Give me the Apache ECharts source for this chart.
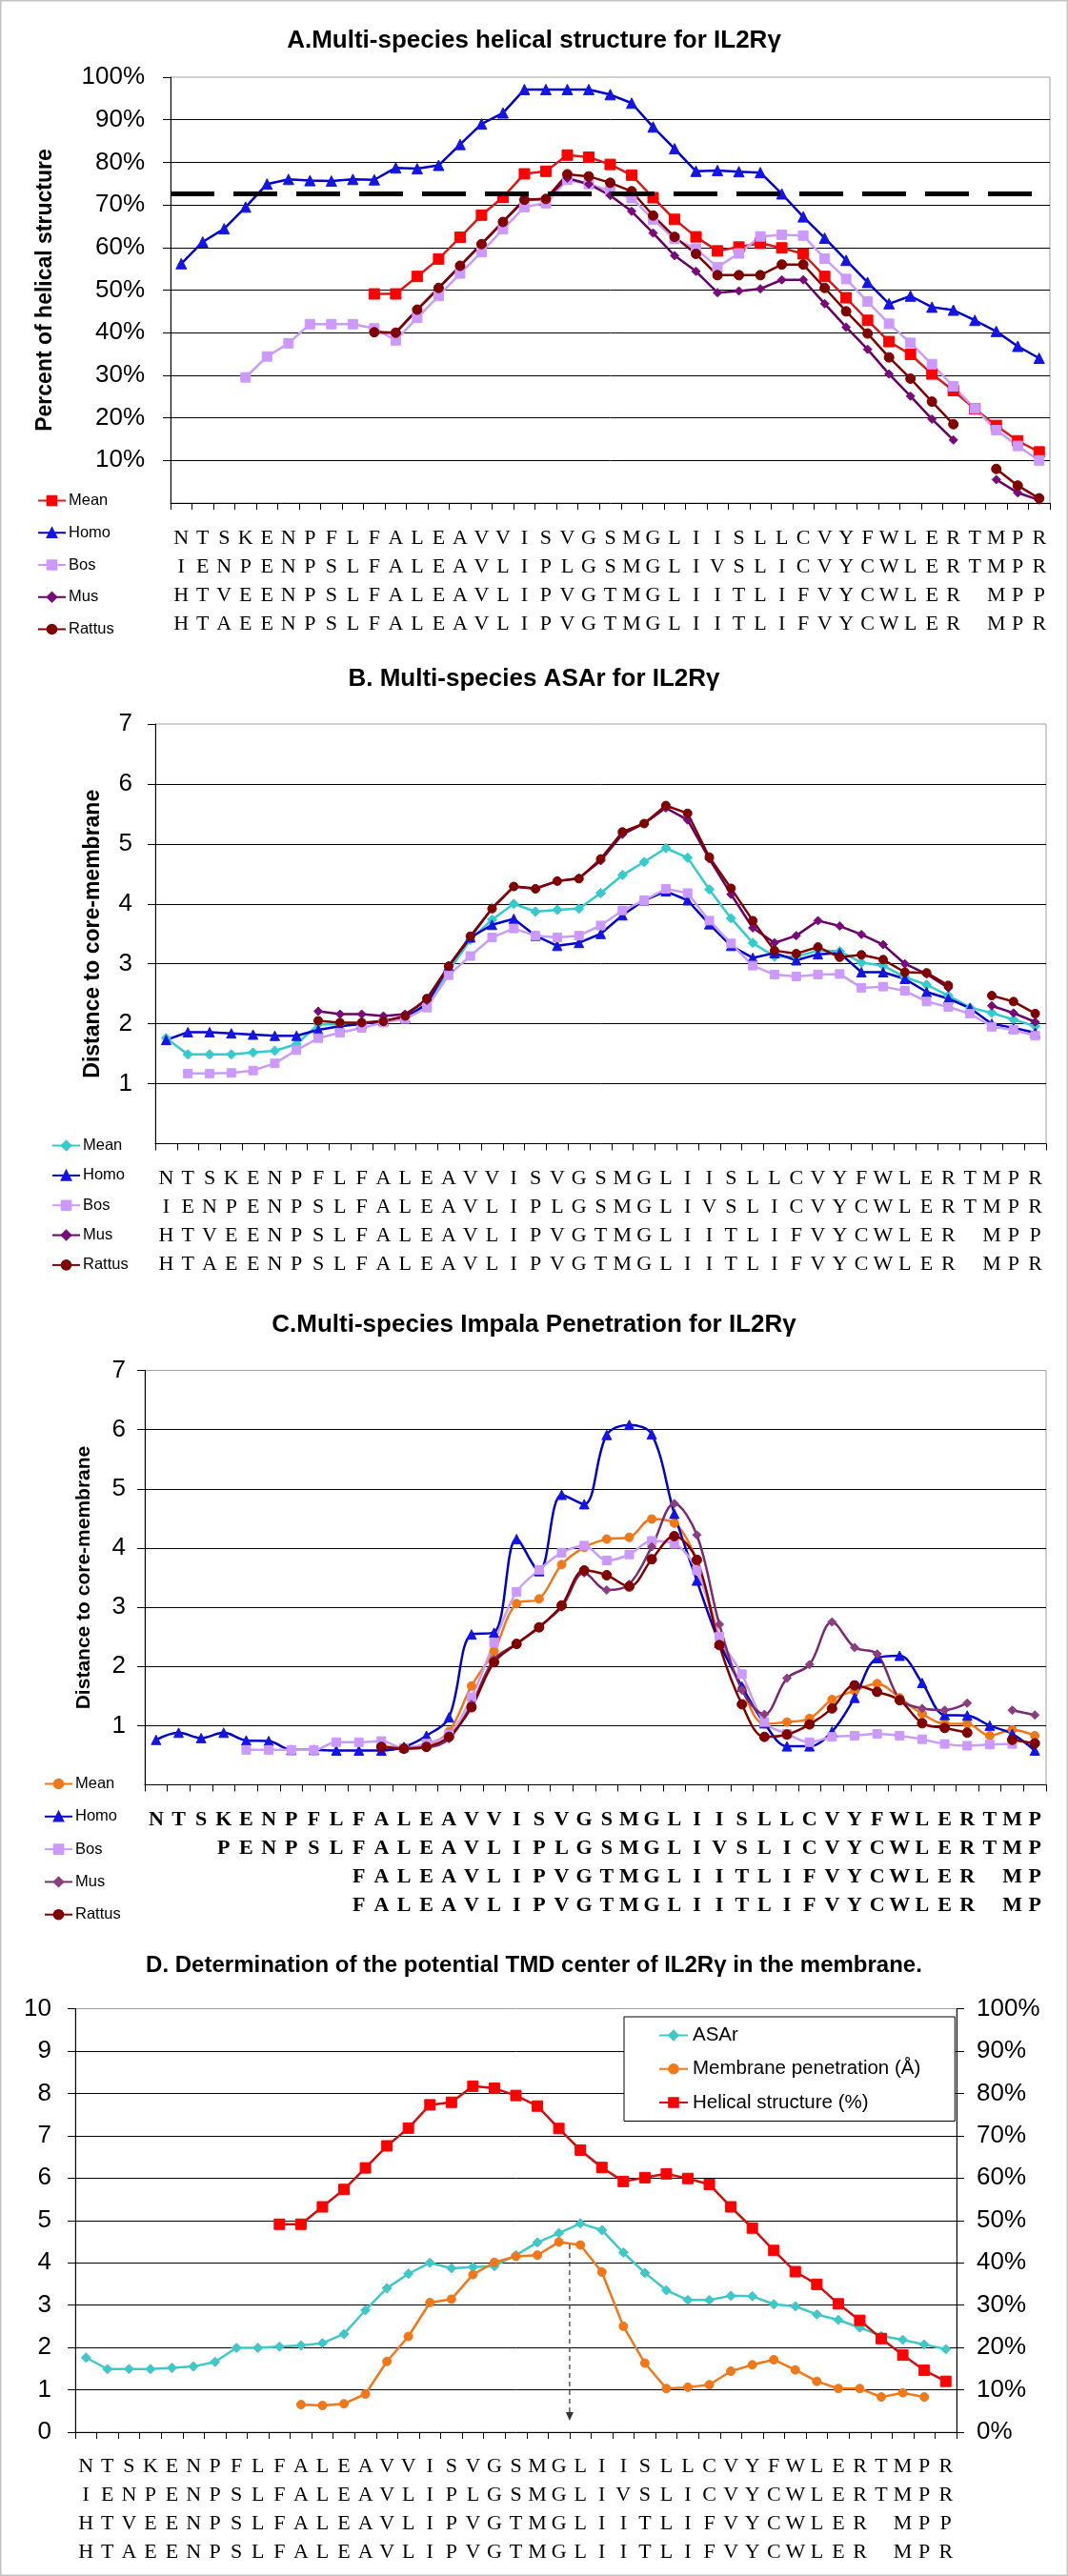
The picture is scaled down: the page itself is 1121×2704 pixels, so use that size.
<!DOCTYPE html>
<html><head><meta charset="utf-8">
<script src="https://cdn.jsdelivr.net/npm/echarts@6/dist/echarts.min.js"></script>
<style>html,body{margin:0;padding:0;background:#fff}#c{width:1121px;height:2704px}</style>
</head><body><div id="c"></div>
<script>
// ---------- sequences (x-axis tick label rows) ----------
const seqHomo   = 'NTSKENPFLFALEAVVISVGSMGLIISLLCVYFWLERTMPR';
const seqBos    = 'IENPENPSLFALEAVLIPLGSMGLIVSLICVYCWLERTMPR';
const seqMus    = 'HTVEENPSLFALEAVLIPVGTMGLIITLIFVYCWLER MPP';
const seqRattus = 'HTAEENPSLFALEAVLIPVGTMGLIITLIFVYCWLER MPR';
// panel C uses 40 positions, rows offset as in the figure
const penHomo   = 'NTSKENPFLFALEAVVISVGSMGLIISLLCVYFWLERTMP';
const penBos    = '   PENPSLFALEAVLIPLGSMGLIVSLICVYCWLERTMP';
const penMus    = '         FALEAVLIPVGTMGLIITLIFVYCWLER MP';
const penRattus = '         FALEAVLIPVGTMGLIITLIFVYCWLER MP';

const speciesNames = ['Mean','Homo','Bos','Mus','Rattus'];

// ---------- A. helical structure (%) ----------
const meanHelix   = [null,null,null,null,null,null,null,null,null,49.1,49.1,53.2,57.3,62.4,67.6,71.8,77.3,77.9,81.7,81.2,79.5,77.0,71.7,66.6,62.5,59.2,60.1,61.0,59.9,58.5,53.2,48.2,42.9,37.9,34.9,30.3,26.4,22.1,18.2,14.6,12.0];
const homoHelix   = [56.2,61.3,64.4,69.5,74.9,76.0,75.7,75.6,76.0,75.9,78.7,78.5,79.3,84.2,89.0,91.6,97.1,97.1,97.1,97.1,95.9,93.9,88.3,83.2,77.9,78.1,77.8,77.6,72.6,67.2,62.2,57.0,51.8,46.8,48.6,46.0,45.3,42.9,40.3,36.8,34.0];
const bosHelix    = [null,null,null,29.5,34.4,37.5,42.0,42.0,42.0,41.0,38.2,43.5,48.6,53.9,58.9,64.3,69.5,70.4,75.9,74.9,73.3,71.6,66.6,62.0,59.7,55.4,58.6,62.6,63.0,62.8,57.4,52.6,47.3,42.1,37.6,32.6,27.4,22.2,17.1,13.4,10.0];
const musHelix    = [null,null,null,null,null,null,null,null,null,40.1,40.0,45.4,50.5,55.7,60.8,66.0,71.2,71.4,76.3,74.9,72.2,68.5,63.4,58.1,54.4,49.4,49.8,50.3,52.4,52.4,46.8,41.3,36.1,30.3,25.1,19.7,14.8,null,5.5,2.4,0.7];
const rattusHelix = [null,null,null,null,null,null,null,null,null,40.1,40.0,45.4,50.5,55.7,60.8,66.0,71.2,71.4,77.2,76.7,75.2,73.2,67.5,62.5,58.5,53.5,53.5,53.5,56.0,56.0,50.5,45.0,39.8,34.2,29.2,23.8,18.5,null,8.0,4.1,1.1];
const helixThreshold = 72.7;

// ---------- B. ASAr ----------
const meanASAr   = [1.76,1.49,1.49,1.49,1.52,1.55,1.66,1.99,1.99,2.02,2.05,2.10,2.32,2.88,3.40,3.74,4.00,3.87,3.90,3.92,4.18,4.48,4.70,4.93,4.77,4.24,3.76,3.35,3.12,3.12,3.22,3.21,3.02,2.97,2.78,2.65,2.47,2.27,2.18,2.07,1.96];
const homoASAr   = [1.73,1.86,1.86,1.84,1.82,1.80,1.80,1.90,1.96,2.00,2.05,2.10,2.33,2.96,3.44,3.65,3.75,3.47,3.30,3.35,3.50,3.81,4.06,4.21,4.06,3.66,3.30,3.10,3.18,3.06,3.16,3.18,2.86,2.86,2.75,2.53,2.42,2.26,2.00,1.93,1.85];
const bosASAr    = [null,1.17,1.17,1.18,1.22,1.34,1.56,1.76,1.85,1.93,2.02,2.08,2.27,2.81,3.13,3.44,3.59,3.47,3.44,3.47,3.64,3.89,4.06,4.25,4.18,3.72,3.34,2.97,2.82,2.79,2.82,2.83,2.60,2.62,2.55,2.37,2.28,2.17,1.95,1.90,1.80];
const musASAr    = [null,null,null,null,null,null,null,2.21,2.16,2.16,2.13,2.16,2.39,2.96,3.44,3.93,4.29,4.26,4.38,4.43,4.72,5.16,5.34,5.60,5.40,4.75,4.16,3.60,3.35,3.47,3.72,3.63,3.49,3.32,3.00,2.83,2.60,null,2.30,2.18,2.03];
const rattusASAr = [null,null,null,null,null,null,null,2.05,2.02,2.02,2.04,2.13,2.42,2.96,3.46,3.92,4.29,4.25,4.38,4.42,4.75,5.20,5.34,5.64,5.51,4.78,4.26,3.72,3.22,3.17,3.28,3.11,3.15,3.07,2.86,2.85,2.64,null,2.47,2.37,2.17];

// ---------- C. Impala penetration ----------
const meanPen   = [null,null,null,null,null,null,null,null,null,null,0.65,0.63,0.67,0.90,1.67,2.26,3.06,3.14,3.72,4.01,4.15,4.18,4.49,4.42,3.78,2.50,1.63,1.03,1.06,1.12,1.44,1.59,1.71,1.47,1.20,1.03,1.03,0.83,0.93,0.83];
const homoPen   = [0.76,0.88,0.79,0.88,0.75,0.74,0.59,0.59,0.58,0.58,0.58,0.64,0.83,1.14,2.54,2.57,4.15,3.61,4.90,4.74,5.91,6.08,5.92,4.58,3.45,2.40,1.66,1.04,0.65,0.65,0.90,1.47,2.14,2.18,1.72,1.18,1.17,1.00,0.86,0.58];
const bosPen    = [null,null,null,null,0.59,0.59,0.59,0.59,0.72,0.72,0.74,0.62,0.70,0.85,1.48,2.40,3.26,3.63,3.92,4.04,3.79,3.89,4.12,4.07,3.62,2.50,1.87,1.06,0.86,0.72,0.81,0.83,0.86,0.83,0.77,0.69,0.66,0.68,0.69,null];
const musPen    = [null,null,null,null,null,null,null,null,null,null,0.64,0.62,0.63,0.78,1.36,2.12,2.38,2.67,3.00,3.58,3.29,3.39,4.02,4.75,4.22,2.71,1.60,1.19,1.80,2.03,2.75,2.32,2.21,1.45,1.29,1.26,1.38,null,1.26,1.18];
const rattusPen = [null,null,null,null,null,null,null,null,null,null,0.64,0.61,0.64,0.81,1.31,2.07,2.38,2.66,3.03,3.62,3.54,3.35,3.81,4.20,3.80,2.36,1.36,0.81,0.85,1.02,1.29,1.68,1.57,1.43,1.04,0.96,0.88,null,0.76,0.70];

// ---------- D. annotation values ----------
const centerArrowTop = 4.43, centerArrowBottom = 0.27;
const centerLeftIdx = 22, centerRightIdx = 23;

// ---------- helpers ----------
const SANS = '"Liberation Sans", Arial, sans-serif';
const SERIF = '"Liberation Serif", "Times New Roman", serif';

function stackLabels(rows) {
  const out = [];
  for (let i = 0; i < rows[0].length; i++) out.push(rows.map(r => r[i] === ' ' ? ' ' : r[i]).join('\n'));
  return out;
}
const catsMain = stackLabels([seqHomo, seqBos, seqMus, seqRattus]);
const catsPen  = stackLabels([penHomo, penBos, penMus, penRattus]);

function xAx(gi, cats, bold, margin) {
  return {
    type: 'category', gridIndex: gi, data: cats, boundaryGap: true,
    axisLine: {show: true, onZero: false, lineStyle: {color: '#000', width: 1}},
    axisTick: {show: true, length: 7, interval: 0, alignWithLabel: false, lineStyle: {color: '#000'}},
    axisLabel: {show: true, interval: 0, margin: margin, fontFamily: SERIF, fontSize: 22, lineHeight: 30,
                color: '#000', fontWeight: bold ? 'bold' : 'normal', hideOverlap: false},
    splitLine: {show: false}
  };
}
function yAx(gi, max, interval, fmt, margin, showMin, extra) {
  return Object.assign({
    type: 'value', gridIndex: gi, min: 0, max: max, interval: interval,
    axisLine: {show: true, lineStyle: {color: '#000', width: 1}},
    axisTick: {show: true, length: 8, inside: false, lineStyle: {color: '#000'}},
    axisLabel: {show: true, margin: margin, fontFamily: SANS, fontSize: 26, color: '#000',
                showMinLabel: showMin, formatter: fmt},
    splitLine: {show: true, showMinLine: false, showMaxLine: false, lineStyle: {color: '#000', width: 1}},
    nameMoveOverlap: false
  }, extra || {});
}
function ser(name, data, gi, yi, lineColor, itemColor, symbol, size, smooth, extra) {
  return Object.assign({
    type: 'line', name: name, xAxisIndex: gi, yAxisIndex: yi, data: data,
    symbol: symbol, symbolSize: size, showSymbol: true, showAllSymbol: true,
    connectNulls: false, smooth: smooth, animation: false,
    lineStyle: {color: lineColor, width: 2.5},
    itemStyle: {color: itemColor, borderColor: itemColor, borderWidth: 1},
    emphasis: {disabled: true}
  }, extra || {});
}
const fmtName = n => n.split('|').pop();
function legend(prefix, left, top, gap) {
  return {
    orient: 'vertical', left: left, top: top, itemWidth: 29, itemHeight: 12, itemGap: gap, padding: 0,
    data: speciesNames.map(s => prefix + '|' + s), formatter: fmtName,
    textStyle: {fontFamily: SANS, fontSize: 16.5, lineHeight: 16, color: '#000', padding: [0, 0, 0, -2]},
    selectedMode: false
  };
}
function title(text, top, size) {
  return {text: text, left: 'center', top: top, padding: 0,
          textStyle: {fontFamily: SANS, fontSize: size, fontWeight: 'bold', color: '#000'}};
}
const pct = v => v + '%';
const gridBase = {show: true, borderColor: '#a0a0a0', borderWidth: 1, backgroundColor: 'transparent', containLabel: false, outerBoundsMode: 'none'};

const chart = echarts.init(document.getElementById('c'), null, {renderer: 'canvas', width: 1121, height: 2704});

const option = {
  animation: false,
  backgroundColor: '#fff',
  textStyle: {fontFamily: SANS},
  title: [
    title('A.Multi-species helical structure for IL2R\u03b3', 30, 26),
    title('B. Multi-species ASAr for IL2R\u03b3', 700, 26),
    title('C.Multi-species Impala Penetration for IL2R\u03b3', 1378, 26),
    title('D. Determination of the potential TMD center of IL2R\u03b3 in the membrane.', 2051, 24)
  ],
  legend: [
    legend('A', 39, 517, 16.75),
    legend('B', 54, 1194, 14.35),
    legend('C', 46, 1864, 17.3),
    {
      orient: 'vertical', left: 655, top: 2117, itemWidth: 30, itemHeight: 12, itemGap: 14.25,
      padding: [9, 36, 9, 36], borderColor: '#000', borderWidth: 1, backgroundColor: '#fff',
      data: ['ASAr', 'Membrane penetration (\u00c5)', 'Helical structure (%)'],
      textStyle: {fontFamily: SANS, fontSize: 20.5, lineHeight: 20, color: '#000'},
      selectedMode: false
    }
  ],
  grid: [
    Object.assign({left: 179, top: 81, width: 923, height: 447}, gridBase),
    Object.assign({left: 163, top: 760, width: 935, height: 440.5}, gridBase),
    Object.assign({left: 152, top: 1438.5, width: 946, height: 435}, gridBase),
    Object.assign({left: 79, top: 2108.5, width: 925, height: 444.5}, gridBase)
  ],
  xAxis: [
    xAx(0, catsMain, false, 22),
    xAx(1, catsMain, false, 22),
    xAx(2, catsPen, true, 22),
    xAx(3, catsMain, false, 21)
  ],
  yAxis: [
    yAx(0, 100, 10, pct, 27, false, {name: 'Percent of helical structure', nameLocation: 'middle', nameRotate: 90, nameGap: 120,
        nameTextStyle: {fontFamily: SANS, fontSize: 23, fontWeight: 'bold', color: '#000'}}),
    yAx(1, 7, 1, v => v, 24, false, {name: 'Distance to core-membrane', nameLocation: 'middle', nameRotate: 90, nameGap: 54,
        nameTextStyle: {fontFamily: SANS, fontSize: 23, fontWeight: 'bold', color: '#000'}}),
    yAx(2, 7, 1, v => v, 20, false, {name: 'Distance to core-membrane', nameLocation: 'middle', nameRotate: 90, nameGap: 53,
        nameTextStyle: {fontFamily: SANS, fontSize: 21, fontWeight: 'bold', color: '#000'}}),
    yAx(3, 10, 1, v => v, 25, true),
    yAx(3, 100, 10, pct, 21, true, {position: 'right', splitLine: {show: false}})
  ],
  series: [
    // A
    ser('A|Mean', meanHelix, 0, 0, '#d41c1c', '#ff0000', 'rect', 11, false),
    ser('A|Homo', homoHelix, 0, 0, '#0000c8', '#1414e6', 'triangle', 11, false, {
      markLine: {silent: true, symbol: 'none', label: {show: false}, animation: false,
                 lineStyle: {color: '#000', width: 5, type: [46, 20]},
                 data: [{yAxis: helixThreshold}]}
    }),
    ser('A|Bos', bosHelix, 0, 0, '#c99cf8', '#cc99ff', 'rect', 10, false),
    ser('A|Mus', musHelix, 0, 0, '#660066', '#7a0a7a', 'diamond', 9, false),
    ser('A|Rattus', rattusHelix, 0, 0, '#800000', '#800000', 'circle', 10, false),
    // B
    ser('B|Mean', meanASAr, 1, 1, '#33cccc', '#33cccc', 'diamond', 10, false),
    ser('B|Homo', homoASAr, 1, 1, '#0000c8', '#1414e6', 'triangle', 10, false),
    ser('B|Bos', bosASAr, 1, 1, '#c99cf8', '#cc99ff', 'rect', 9, false),
    ser('B|Mus', musASAr, 1, 1, '#660066', '#7a0a7a', 'diamond', 9, false),
    ser('B|Rattus', rattusASAr, 1, 1, '#800000', '#800000', 'circle', 9, false),
    // C
    ser('C|Mean', meanPen, 2, 2, '#f07818', '#f07818', 'circle', 9, 0.35),
    ser('C|Homo', homoPen, 2, 2, '#0000c8', '#1414e6', 'triangle', 10, 0.35),
    ser('C|Bos', bosPen, 2, 2, '#c99cf8', '#cc99ff', 'rect', 9, 0.35),
    ser('C|Mus', musPen, 2, 2, '#7a2a72', '#8c3f80', 'diamond', 9, 0.35),
    ser('C|Rattus', rattusPen, 2, 2, '#800000', '#800000', 'circle', 10, 0.35),
    // D
    ser('ASAr', meanASAr, 3, 3, '#40c8c8', '#40c8c8', 'diamond', 10, false),
    ser('Membrane penetration (\u00c5)', meanPen.concat([null]), 3, 3, '#f07818', '#f07818', 'circle', 9, false),
    ser('Helical structure (%)', meanHelix, 3, 4, '#cc1010', '#ff0000', 'rect', 11, false)
  ]
};
chart.setOption(option);

// dashed arrow marking the TMD centre (between two categories), positioned through the axes
const pL = chart.convertToPixel({xAxisIndex: 3, yAxisIndex: 3}, [centerLeftIdx, centerArrowTop]);
const pR = chart.convertToPixel({xAxisIndex: 3, yAxisIndex: 3}, [centerRightIdx, centerArrowBottom]);
const ax = (pL[0] + pR[0]) / 2, ay1 = pL[1], ay2 = pR[1];
chart.setOption({
  graphic: [
    {type: 'rect', silent: true, shape: {x: 0.75, y: 0.75, width: 1119.5, height: 2702.5},
     style: {fill: 'none', stroke: '#c4c4c4', lineWidth: 1.5}},
    {type: 'line', silent: true, z: 100, shape: {x1: ax, y1: ay1, x2: ax, y2: ay2 - 8},
     style: {stroke: '#333', lineWidth: 1.2, lineDash: [5, 4]}},
    {type: 'polygon', silent: true, z: 100, shape: {points: [[ax - 4, ay2 - 9], [ax + 4, ay2 - 9], [ax, ay2]]},
     style: {fill: '#333'}}
  ]
});
</script>
</body></html>
